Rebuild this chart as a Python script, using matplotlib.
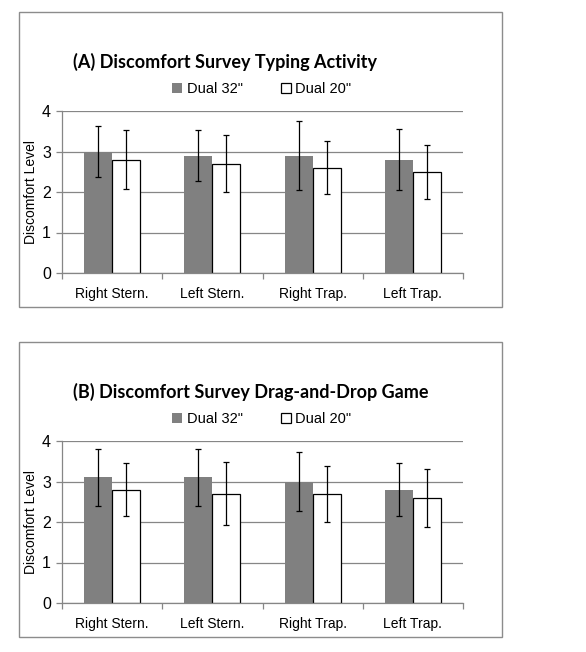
import matplotlib.pyplot as plt
from matplotlib.patches import Rectangle

# categories and survey values (mean, sd)
categories = ['Right Stern.', 'Left Stern.', 'Right Trap.', 'Left Trap.']
series_names = ['Dual 32"', 'Dual 20"']

typing_32 = [3.0, 2.9, 2.9, 2.8]
typing_32_err = [0.63, 0.63, 0.85, 0.75]
typing_20 = [2.8, 2.7, 2.6, 2.5]
typing_20_err = [0.72, 0.70, 0.66, 0.67]

drag_32 = [3.1, 3.1, 3.0, 2.8]
drag_32_err = [0.71, 0.70, 0.73, 0.65]
drag_20 = [2.8, 2.7, 2.7, 2.6]
drag_20_err = [0.65, 0.77, 0.69, 0.72]

titles = ['(A) Discomfort Survey Typing Activity',
          '(B) Discomfort Survey Drag-and-Drop Game']

W, H = 586, 652
fig = plt.figure(figsize=(W / 100, H / 100), dpi=100)

GRAY = '#808080'
LINE = '#868686'
FONT = 'Liberation Sans'


def fx(px):
    return px / W


def fy(py):
    return 1 - py / H


def panel(top, title, v32, e32, v20, e20):
    # outer frame of the chart
    fig.patches.append(Rectangle((fx(19), fy(top + 295)), fx(483), 295 / H,
                                 transform=fig.transFigure, fill=False,
                                 edgecolor='#8c8c8c', linewidth=1))
    ax = fig.add_axes([fx(62), fy(top + 261), fx(401), 162 / H])
    x = list(range(len(categories)))
    w = 0.28
    xl = [i - w / 2 for i in x]
    xr = [i + w / 2 for i in x]
    ax.bar(xl, v32, w, color=GRAY, edgecolor='none', zorder=2, label=series_names[0])
    ax.bar(xr, v20, w, color='white', edgecolor='black', linewidth=0.9,
           zorder=2, label=series_names[1])
    ax.errorbar(xl, v32, yerr=e32, fmt='none', ecolor='black', elinewidth=0.9,
                capsize=2.5, capthick=0.9, zorder=3)
    ax.errorbar(xr, v20, yerr=e20, fmt='none', ecolor='black', elinewidth=0.9,
                capsize=2.5, capthick=0.9, zorder=3)
    ax.set_xlim(-0.5, 3.5)
    ax.set_ylim(0, 4)
    ax.set_yticks([0, 1, 2, 3, 4])
    ax.yaxis.grid(True, color=LINE, linewidth=0.9, zorder=0)
    ax.set_axisbelow(True)
    ax.set_xticks(x)
    ax.set_xticklabels(categories, family=FONT, fontsize=10)
    ax.set_xticks([-0.5, 0.5, 1.5, 2.5, 3.5], minor=True)
    ax.tick_params(axis='x', which='major', length=0, pad=10)
    ax.tick_params(axis='x', which='minor', length=4, color=LINE, width=0.9)
    ax.tick_params(axis='y', length=4, color=LINE, width=0.9, pad=4)
    for lab in ax.get_yticklabels():
        lab.set_family(FONT)
        lab.set_fontsize(11.5)
    for s in ['top', 'right']:
        ax.spines[s].set_visible(False)
    for s in ['left', 'bottom']:
        ax.spines[s].set_color(LINE)
        ax.spines[s].set_linewidth(0.9)
    ax.set_ylabel('Discomfort Level', family=FONT, fontsize=10, labelpad=3)
    fig.text(fx(73), fy(top + 50), title, fontsize=13, fontweight='bold',
             family='Lato', va='center', ha='left')
    ax.legend(loc='center left', bbox_to_anchor=(fx(172), fy(top + 77)),
              bbox_transform=fig.transFigure, ncol=2, frameon=False,
              prop={'family': FONT, 'size': 10.5},
              handlelength=0.7, handleheight=0.7, handletextpad=0.3,
              columnspacing=2.6, borderaxespad=0, borderpad=0)
    return ax


panel(12, titles[0], typing_32, typing_32_err, typing_20, typing_20_err)
panel(342, titles[1], drag_32, drag_32_err, drag_20, drag_20_err)

fig.savefig('out.png', dpi=100)
